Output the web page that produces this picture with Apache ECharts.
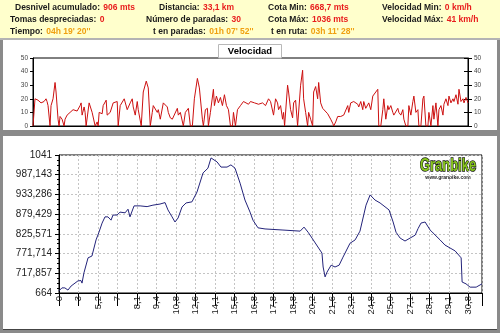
<!DOCTYPE html>
<html><head><meta charset="utf-8">
<script src="https://cdn.jsdelivr.net/npm/echarts@6/dist/echarts.min.js"></script>
<style>
html,body{margin:0;padding:0;background:#fff;width:500px;height:333px;overflow:hidden}
.bg{position:absolute}
#c{position:absolute;left:0;top:0;width:500px;height:333px}
</style>
</head><body>
<div class="bg" style="left:0;top:0;width:500px;height:333px;background:#8a8a8a"></div>
<div class="bg" style="left:0;top:0;width:500px;height:38px;background:#ffffcc"></div>
<div class="bg" style="left:0;top:38px;width:500px;height:2px;background:#b4b4b4"></div>
<div class="bg" style="left:3px;top:40px;width:494px;height:90px;background:#fff"></div>
<div class="bg" style="left:3px;top:136px;width:494px;height:193px;background:#fff;border-bottom:1px solid #444"></div>
<div id="c"></div>
<script>
// ---- data ----
const distLabels = ['0','3','5,2','7','8,1','9,4','10,8','12,6','14,1','15,5','16,8','17,8','18,8','20,2','21,6','23,2','24,8','25,9','27,1','28,1','29,1','30,8'];
const elevTickLabels = ['664','717,857','771,714','825,571','879,429','933,286','987,143','1041'];
const speedTickLabels = ['0','10','20','30','40','50'];
// sample index (10 samples per distance label) and elevation (m)
const elevSample = [0,1.5,3,4.6,6.2,7.7,9.7,11.3,11.8,12.8,14.9,16.9,19,20.5,22.1,23.6,25.1,26.7,27.7,29.8,31.3,32.3,33.9,35.4,36.4,38.5,41.6,45.2,48.2,51.8,54.4,55.9,58,59.5,61.1,63.1,65.2,68.2,70.8,73.9,76.4,78,79,81.1,83.1,86.2,88.2,90.3,92.9,95.4,98,99.5,102.1,105.7,114.9,123.7,125.7,127.8,129.8,134.9,135.5,136.5,137.5,139.6,141.6,143.7,145.7,149.3,151.9,154.4,157.5,159.6,162.1,164.7,169.3,171.4,172.9,175,177.5,180.1,182.7,184.2,185.7,187.8,190.4,191.9,195.5,198,200.6,203.2,206.3,206.8,208.8,210.9,214,216,217];
const elevValues = [670,678,678,672,683,689,697,698,691,719,760,765,809,830,855,872,872,863,877,877,885,883,883,893,872,902,902,900,904,907,911,891,872,858,869,899,910,913,940,992,1005,1033,1036,1022,1008,1008,1014,1005,964,918,885,863,842,839,836,833,844,830,814,773,735,708,721,740,735,740,762,800,809,833,904,932,918,910,891,858,830,814,806,814,822,840,855,858,836,828,809,795,787,779,760,694,689,680,680,686,689];
// sample index and speed (km/h)
const speedSample = [0,1,2.5,4,5.5,6.5,7,7.5,8.5,9,10,11,11.5,12.5,13,13.5,14.5,15,15.5,16,17,18.5,20,22,22.5,23.5,24,24.5,25.5,26,26.5,28,29.5,31,32,32.5,33,34.5,35,36.5,37,38.5,40,42,42.5,43.5,45.5,46,47,48.5,49.5,50,51,52,52.5,54,55,56.5,57.5,58.5,59.5,60,62,62.5,63.5,65,67,67.5,68.5,69.5,72,72.5,73.5,75,76,77.5,78.5,79.5,80.5,82,83,84.5,85,86,87,87.5,88.5,90,90.5,91.5,92.5,93.5,94.5,95.5,96.5,97.5,98.5,99.5,100,101,102,103.5,105,107.5,108.5,110.5,112.5,114.5,116,117.5,118.5,120,121,122,122.5,123.5,124.5,125,125.5,127,127.5,128.5,129.5,130,131,132,132.5,133.5,134.5,135,136,137,137.5,138.5,139.5,140,141,142,142.5,143.5,144.5,145,147,148.5,149.5,150,151,152,153.5,155,157,157.5,158.5,160,162,162.5,163.5,164.5,165,166,167.5,168.5,169.5,171,172,172.5,173.5,174.5,175,176,177,177.5,178.5,179.5,180,182,182.5,183.5,184.5,185,186,187,187.5,188.5,189.5,190,191,192,192.5,193.5,194.5,195,196,197,197.5,198.5,199.5,200,201,202,202.5,203.5,204.5,205,206,207,207.5,208.5,209.5,210,211,212,212.5,213.5,214.5,215,216,217];
const speedValues = [0,20,19,17,18,20,18,15,0,15,20,32,25,5,0,7,5,4,0,5,8,10,12,11,12,15,17,8,14,10,0,17,10,0,3,0,10,9,15,19,8,10,17,18,0,15,20,21,12,17,20,14,8,18,12,0,25,33,28,0,10,15,10,12,5,17,14,10,6,5,13,8,10,0,10,13,0,0,20,35,28,5,0,12,13,0,10,27,15,22,17,21,15,23,15,12,0,0,10,0,12,15,18,16,18,17,16,17,15,20,18,8,20,17,12,15,5,10,0,30,25,12,6,17,19,0,0,30,41,20,10,0,10,5,0,25,29,20,32,17,13,12,9,5,2,0,3,7,7,8,15,10,17,18,16,14,18,12,18,13,17,12,22,25,27,0,0,12,20,5,15,12,15,10,8,13,10,8,12,5,0,0,15,8,18,22,10,12,0,0,20,22,0,0,10,0,15,5,17,0,12,15,8,16,20,15,22,17,20,18,23,16,27,18,20,17,21,17];
const summaryLabels = ['Desnivel acumulado:','Distancia:','Cota Min:','Velocidad Min:','Tomas despreciadas:','Número de paradas:','Cota Máx:','Velocidad Máx:','Tiempo:','t en paradas:','t en ruta:'];
const summaryValues = ['906 mts','33,1 km','668,7 mts','0 km/h','0','30','1036 mts','41 km/h',"04h 19' 20''","01h 07' 52''","03h 11' 28''"];
const summaryKinds = ['r','r','r','r','r','r','r','r','o','o','o'];
const speedTitle = 'Velocidad';

// ---- layout ----
const headerPos = [[15,7.5],[159,7.5],[268,7.5],[382,7.5],[10,19.5],[146,19.5],[268,19.5],[382,19.5],[10,31.5],[153,31.5],[271,31.5]];
const FF = "'Liberation Sans', Arial, sans-serif";
const richH = {
  l:{fontFamily:FF,fontWeight:'bold',fontSize:8.5,fill:'#1a1a1a'},
  r:{fontFamily:FF,fontWeight:'bold',fontSize:8.5,fill:'#e81c1c'},
  o:{fontFamily:FF,fontWeight:'bold',fontSize:8.5,fill:'#f0a010'}
};
const graphics = summaryLabels.map((lab,i)=>({
  type:'text', x:headerPos[i][0], y:headerPos[i][1],
  style:{text:'{l|'+lab+'} {'+summaryKinds[i]+'|'+summaryValues[i]+'}', rich:richH, verticalAlign:'middle', align:'left'}
}));
graphics.push({type:'rect', shape:{x:218.5,y:44.5,width:63,height:13.5}, style:{fill:'#fff',stroke:'#b8b8b8',lineWidth:1}});
graphics.push({type:'text', x:250, y:51.5, style:{text:speedTitle, font:"bold 9.5px "+FF, fill:'#000', align:'center', verticalAlign:'middle'}});
graphics.push({type:'text', x:448, y:166, scaleX:0.72, style:{text:'Granbike', font:"bold 18px "+FF, fill:'#86c51c', stroke:'#111', lineWidth:1.5, align:'center', verticalAlign:'middle'}});
graphics.push({type:'text', x:448, y:178, style:{text:'www.granbike.com', font:"bold 5px "+FF, fill:'#222', align:'center', verticalAlign:'middle'}});

const elevStep = 377/7;
const chart = echarts.init(document.getElementById('c'), null, {renderer:'canvas'});
chart.setOption({
  animation:false,
  graphic:graphics,
  grid:[
    {left:33, right:32, top:58, height:68, show:true, borderColor:'#000', borderWidth:1, backgroundColor:'transparent'},
    {left:59, right:18, top:155, height:138, show:true, borderColor:'#000', borderWidth:1, backgroundColor:'transparent'}
  ],
  xAxis:[
    {type:'value', gridIndex:0, min:0, max:217, axisLine:{lineStyle:{color:'#000'}}, axisTick:{show:false}, axisLabel:{show:false}, splitLine:{show:false}},
    {type:'value', gridIndex:1, min:0, max:217, interval:10,
      axisLine:{onZero:false, lineStyle:{color:'#000'}},
      axisTick:{length:13, lineStyle:{color:'#000'}},
      axisLabel:{rotate:90, margin:3, fontSize:9.5, fontFamily:FF, color:'#222', padding:[10,0,0,0],
        formatter:v=>{const k=Math.round(v/10); return (Math.abs(v-k*10)<1e-6 && k<distLabels.length)?distLabels[k]:'';}},
      splitLine:{show:true, lineStyle:{color:'#c4c4c4', type:[2,2]}}}
  ],
  yAxis:[
    {type:'value', gridIndex:0, min:0, max:50, interval:10, position:'left',
      axisLine:{show:true, lineStyle:{color:'#000'}}, axisTick:{show:true, length:3, lineStyle:{color:'#000'}},
      axisLabel:{fontSize:6.5, fontFamily:FF, color:'#444', margin:5, formatter:v=>speedTickLabels[Math.round(v/10)]}, splitLine:{show:false}},
    {type:'value', gridIndex:0, min:0, max:50, interval:10, position:'right',
      axisLine:{show:true, lineStyle:{color:'#000'}}, axisTick:{show:true, length:4, lineStyle:{color:'#000'}},
      axisLabel:{fontSize:6.5, fontFamily:FF, color:'#444', margin:6, formatter:v=>speedTickLabels[Math.round(v/10)]}, splitLine:{show:false}},
    {type:'value', gridIndex:0, min:0, max:50, interval:10, position:'right',
      axisLine:{show:false}, axisTick:{show:true, inside:true, length:4, lineStyle:{color:'#000'}},
      axisLabel:{show:false}, splitLine:{show:false}},
    {type:'value', gridIndex:1, min:664, max:1041, interval:elevStep,
      axisLine:{show:true, lineStyle:{color:'#000'}}, axisTick:{show:true, length:4, lineStyle:{color:'#000'}},
      minorTick:{show:true, splitNumber:4, length:2, lineStyle:{color:'#000'}},
      axisLabel:{fontSize:10, fontFamily:FF, color:'#222', margin:7,
        formatter:v=>elevTickLabels[Math.round((v-664)/elevStep)]},
      splitLine:{show:true, lineStyle:{color:'#c4c4c4', type:[2,2]}}}
  ],
  series:[
    {type:'line', xAxisIndex:0, yAxisIndex:0, symbol:'none', data:speedSample.map((s,i)=>[s,speedValues[i]]), lineStyle:{color:'#cc1010', width:1}},
    {type:'line', xAxisIndex:1, yAxisIndex:3, symbol:'none', data:elevSample.map((s,i)=>[s,elevValues[i]]), lineStyle:{color:'#23237a', width:1}}
  ]
});
</script>
</body></html>
